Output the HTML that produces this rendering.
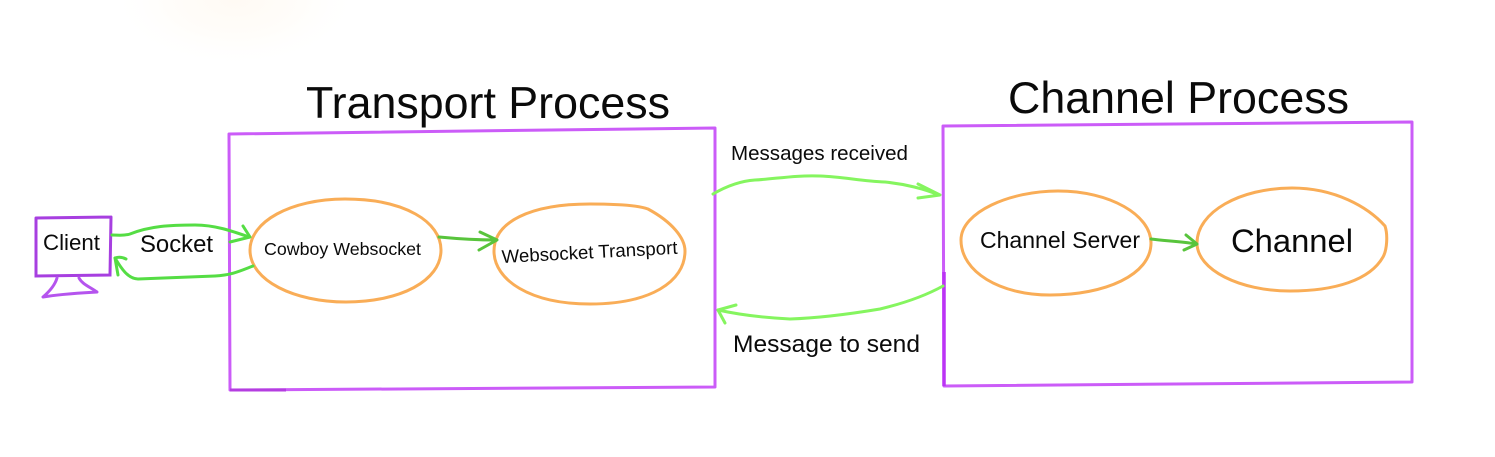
<!DOCTYPE html>
<html><head><meta charset="utf-8"><style>
html,body{margin:0;padding:0;background:#fff;width:1495px;height:457px;overflow:hidden}
svg{display:block}
text{font-family:"Liberation Sans",sans-serif;fill:#0a0a0a}
.p{fill:none;stroke:#cb5cf8;stroke-width:3;stroke-linecap:round;stroke-linejoin:round}
.o{fill:none;stroke:#f9ad57;stroke-width:3;stroke-linecap:round;stroke-linejoin:round}
.g{fill:none;stroke:#55dd44;stroke-width:3;stroke-linecap:round;stroke-linejoin:round}
.l{fill:none;stroke:#85f55f;stroke-width:3;stroke-linecap:round;stroke-linejoin:round}
.d{fill:none;stroke:#58c43c;stroke-width:3;stroke-linecap:round;stroke-linejoin:round}
</style></head><body>
<svg width="1495" height="457" viewBox="0 0 1495 457" xmlns="http://www.w3.org/2000/svg">
<defs><radialGradient id="b" cx="50%" cy="50%" r="50%"><stop offset="0%" stop-color="#fffaf4" stop-opacity="1"/><stop offset="55%" stop-color="#fffdfa" stop-opacity="1"/><stop offset="100%" stop-color="#fff" stop-opacity="0"/></radialGradient></defs>
<rect width="1495" height="457" fill="#fff"/>
<ellipse cx="235" cy="0" rx="125" ry="68" fill="url(#b)"/>

<path class="p" d="M229 134 L715 128 L715 387 L230 390 Z"/>
<path d="M230 390 L286 390" stroke="#b43ee0" stroke-width="3" fill="none"/>
<path class="p" d="M943 126 L1412 122 L1412 382 L944 386 Z"/>
<path d="M944 272 L944 386" stroke="#bb33f5" stroke-width="3.5" fill="none"/>

<path d="M36 218 L111 217 M36 218 L36 276 L110 275 L111 217" fill="none" stroke="#a73fe0" stroke-width="3" stroke-linecap="round"/>
<path d="M57 278 C55 285 50 291 43 297 C60 294 80 293 97 292 C90 287 82 284 79 278" fill="none" stroke="#b554ee" stroke-width="3" stroke-linecap="round" stroke-linejoin="round"/>

<path class="o" d="M250 250 C250 222 290 199 345 199 C405 199 441 222 441 250 C441 281 400 302 346 302 C295 302 250 281 250 250 Z"/>
<path class="o" d="M494 251 C494 222 530 204 590 204 C620 204 640 206 648 209 C672 222 685 238 685 251 C685 282 650 304 590 304 C530 304 494 280 494 251 Z"/>
<path class="o" d="M961 240 C961 212 1010 191 1058 191 C1110 191 1151 215 1151 243 C1151 275 1105 295 1050 295 C1000 295 961 272 961 240 Z"/>
<path class="o" d="M1197 243 C1197 212 1240 188 1292 188 C1335 188 1368 207 1385 226 C1388 235 1387 250 1383 257 C1370 280 1335 291 1290 291 C1240 291 1197 270 1197 243 Z"/>

<path class="g" d="M112 235 C118 235 124 236 130 234 C150 226 170 225 195 225 C215 225 232 231 249 237"/>
<path class="g" d="M243 226 L250 237 L230 242"/>
<path class="g" d="M253 266 C240 271 232 275 215 276 C190 277 165 278 138 279 C128 279 121 268 115 258"/>
<path class="g" d="M126 259 C122 257 118 257 115 258 L118 275"/>
<path class="l" d="M713 194 C725 187 740 181 755 180 C775 179 795 175 820 176 C845 177 860 181 885 182 C905 184 925 189 939 195"/>
<path class="l" d="M918 184 L940 195 L918 198"/>
<path class="l" d="M943 286 C925 296 905 303 880 309 C850 314 820 318 790 319 C770 318 745 316 718 310"/>
<path class="l" d="M736 305 L718 310 L725 323"/>
<path class="d" d="M439 237 C460 239 478 240 496 240"/>
<path class="d" d="M480 232 L497 240 L479 250"/>
<path class="d" d="M1151 239 C1165 241 1180 241 1196 244"/>
<path class="d" d="M1186 235 L1197 244 L1184 250"/>

<text x="306" y="118" font-size="44.6" textLength="364" lengthAdjust="spacingAndGlyphs">Transport Process</text>
<text x="1008" y="113" font-size="44.8" textLength="341" lengthAdjust="spacingAndGlyphs">Channel Process</text>
<text x="43" y="250" font-size="22" textLength="57" lengthAdjust="spacingAndGlyphs">Client</text>
<text x="140" y="252" font-size="24" textLength="73" lengthAdjust="spacingAndGlyphs">Socket</text>
<text x="264" y="255" font-size="17.8" textLength="157" lengthAdjust="spacingAndGlyphs">Cowboy Websocket</text>
<text transform="translate(502 263) rotate(-3)" font-size="18.5" textLength="176" lengthAdjust="spacingAndGlyphs">Websocket Transport</text>
<text x="731" y="160" font-size="20.5" textLength="177" lengthAdjust="spacingAndGlyphs">Messages received</text>
<text x="733" y="352" font-size="24.5" textLength="187" lengthAdjust="spacingAndGlyphs">Message to send</text>
<text x="980" y="248" font-size="23" textLength="160" lengthAdjust="spacingAndGlyphs">Channel Server</text>
<text x="1231" y="252" font-size="32.8" textLength="122" lengthAdjust="spacingAndGlyphs">Channel</text>
</svg>
</body></html>
